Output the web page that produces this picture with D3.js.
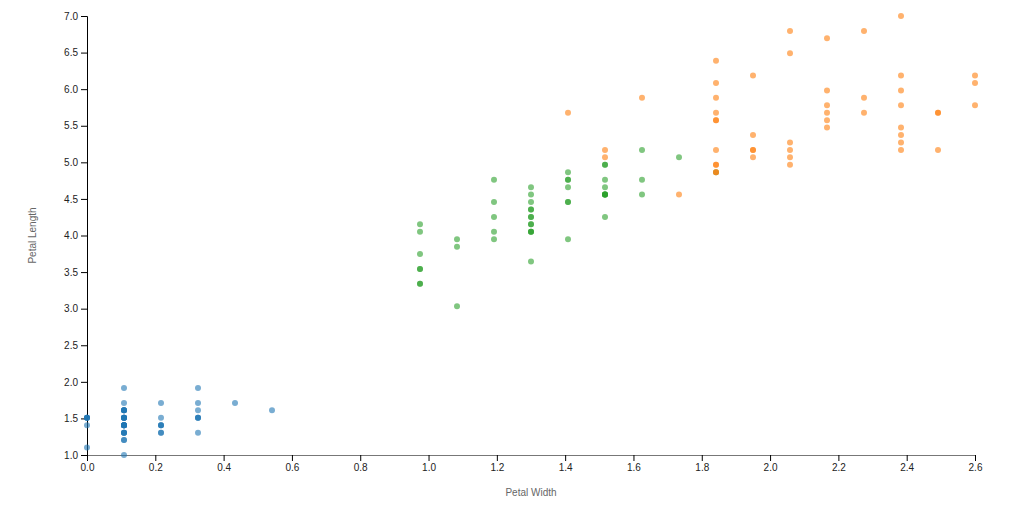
<!DOCTYPE html>
<html><head><meta charset="utf-8">
<script src="https://cdn.jsdelivr.net/npm/d3@7"></script>
<style>
body{margin:0;background:#fff;}
svg text{font-family:"Liberation Sans",Arial,sans-serif;}
</style></head>
<body><svg id="c" width="1022" height="514"></svg>
<script>
const species = ["setosa","versicolor","virginica"];
const colors = ["#1f77b4","#2ca02c","#ff7f0e"];
// petal widths / lengths per species (Iris)
const setosaWidth  = [0.2,0.2,0.2,0.2,0.2,0.4,0.3,0.2,0.2,0.1,0.2,0.2,0.1,0.1,0.2,0.4,0.4,0.3,0.3,0.3,0.2,0.4,0.2,0.5,0.2,0.2,0.4,0.2,0.2,0.2,0.2,0.4,0.1,0.2,0.1,0.2,0.2,0.1,0.2,0.2,0.3,0.3,0.2,0.6,0.4,0.3,0.2,0.2,0.2,0.2];
const setosaLength = [1.4,1.4,1.3,1.5,1.4,1.7,1.4,1.5,1.4,1.5,1.5,1.6,1.4,1.1,1.2,1.5,1.3,1.4,1.7,1.5,1.7,1.5,1.0,1.7,1.9,1.6,1.6,1.5,1.4,1.6,1.6,1.5,1.5,1.4,1.5,1.2,1.3,1.5,1.3,1.5,1.3,1.3,1.3,1.6,1.9,1.4,1.6,1.4,1.5,1.4];
const versicolorWidth  = [1.4,1.5,1.5,1.3,1.5,1.3,1.6,1.0,1.3,1.4,1.0,1.5,1.0,1.4,1.3,1.4,1.5,1.0,1.5,1.1,1.8,1.3,1.5,1.2,1.3,1.4,1.4,1.7,1.5,1.0,1.1,1.0,1.2,1.6,1.5,1.6,1.5,1.3,1.3,1.3,1.2,1.4,1.2,1.0,1.3,1.2,1.3,1.3,1.1,1.3];
const versicolorLength = [4.7,4.5,4.9,4.0,4.6,4.5,4.7,3.3,4.6,3.9,3.5,4.2,4.0,4.7,3.6,4.4,4.5,4.1,4.5,3.9,4.8,4.0,4.9,4.7,4.3,4.4,4.8,5.0,4.5,3.5,3.8,3.7,3.9,5.1,4.5,4.5,4.7,4.4,4.1,4.0,4.4,4.6,4.0,3.3,4.2,4.2,4.2,4.3,3.0,4.1];
const virginicaWidth  = [2.5,1.9,2.1,1.8,2.2,2.1,1.7,1.8,1.8,2.5,2.0,1.9,2.1,2.0,2.4,2.3,1.8,2.2,2.3,1.5,2.3,2.0,2.0,1.8,2.1,1.8,1.8,1.8,2.1,1.6,1.9,2.0,2.2,1.5,1.4,2.3,2.4,1.8,1.8,2.1,2.4,2.3,1.9,2.3,2.5,2.3,1.9,2.0,2.3,1.8];
const virginicaLength = [6.0,5.1,5.9,5.6,5.8,6.6,4.5,6.3,5.8,6.1,5.1,5.3,5.5,5.0,5.1,5.3,5.5,6.7,6.9,5.0,5.7,4.9,6.7,4.9,5.7,6.0,4.8,4.9,5.6,5.8,6.1,6.4,5.6,5.1,5.6,6.1,5.6,5.5,4.8,5.4,5.6,5.1,5.1,5.9,5.7,5.2,5.0,5.2,5.4,5.1];

const widths = [setosaWidth, versicolorWidth, virginicaWidth];
const lengths = [setosaLength, versicolorLength, virginicaLength];
const points = [];
species.forEach((s,i)=>widths[i].forEach((w,j)=>points.push({s, i, w, l: lengths[i][j]})));

const svg = d3.select("#c");
const m = {left:87, top:16, right:47, bottom:59};
const W = 1022 - m.left - m.right, H = 514 - m.top - m.bottom;
const g = svg.append("g").attr("transform",`translate(${m.left},${m.top})`);

const x = d3.scaleLinear().domain(d3.extent(points,d=>d.w)).range([0,W]);
const y = d3.scaleLinear().domain(d3.extent(points,d=>d.l)).range([H,0]);
const xAxisScale = x.copy().nice();
const yAxisScale = y.copy().nice();

const xa = g.append("g").attr("transform",`translate(0,${H})`).call(d3.axisBottom(xAxisScale).ticks(14));
xa.select(".domain").attr("stroke","#777");
const ya = g.append("g").call(d3.axisLeft(yAxisScale).ticks(12));
g.selectAll(".tick text").attr("fill","#222").style("font-size","10px");

g.selectAll("circle").data(points).join("circle")
  .attr("cx",d=>x(d.w)).attr("cy",d=>y(d.l)).attr("r",3)
  .attr("fill",d=>colors[d.i]).attr("fill-opacity",0.6);

g.append("text").attr("x",W/2).attr("y",H+41).attr("text-anchor","middle")
  .attr("fill","#666").style("font-size","10px").text("Petal Width");
g.append("text").attr("transform",`translate(${-51},${H/2}) rotate(-90)`).attr("text-anchor","middle")
  .attr("fill","#666").style("font-size","10px").text("Petal Length");
</script></body></html>
